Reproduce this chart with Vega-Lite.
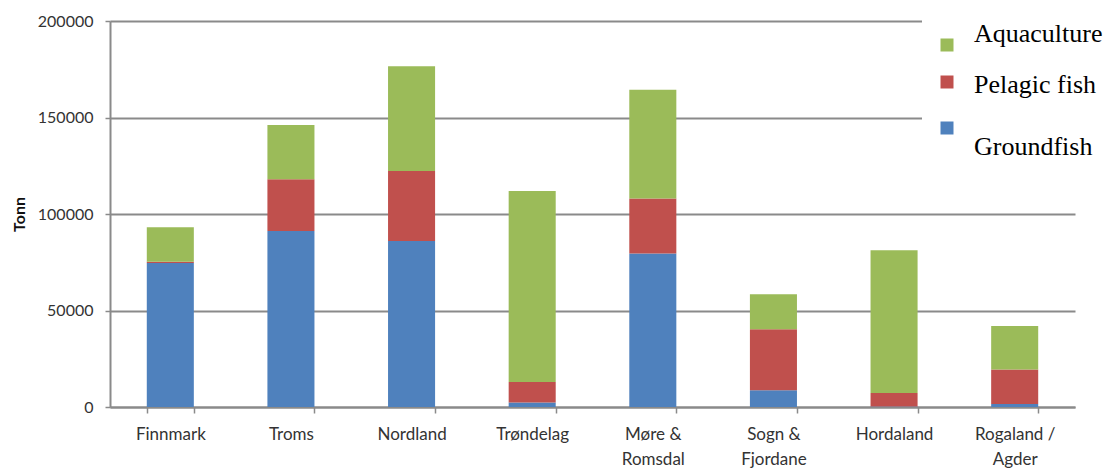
{
  "$schema": "https://vega.github.io/schema/vega-lite/v6.json",
  "width": 965,
  "height": 386,
  "autosize": {"type": "none"},
  "padding": {"left": 110, "top": 21, "right": 34, "bottom": 64},
  "background": "white",
  "data": {
    "values": [
      {"region": "Finnmark", "type": "Groundfish", "stack": 1, "tonn": 74600},
      {"region": "Finnmark", "type": "Pelagic fish", "stack": 2, "tonn": 600},
      {"region": "Finnmark", "type": "Aquaculture", "stack": 3, "tonn": 17900},
      {"region": "Troms", "type": "Groundfish", "stack": 1, "tonn": 91200},
      {"region": "Troms", "type": "Pelagic fish", "stack": 2, "tonn": 26800},
      {"region": "Troms", "type": "Aquaculture", "stack": 3, "tonn": 28100},
      {"region": "Nordland", "type": "Groundfish", "stack": 1, "tonn": 86000},
      {"region": "Nordland", "type": "Pelagic fish", "stack": 2, "tonn": 36300},
      {"region": "Nordland", "type": "Aquaculture", "stack": 3, "tonn": 54200},
      {"region": "Trøndelag", "type": "Groundfish", "stack": 1, "tonn": 2300},
      {"region": "Trøndelag", "type": "Pelagic fish", "stack": 2, "tonn": 10700},
      {"region": "Trøndelag", "type": "Aquaculture", "stack": 3, "tonn": 98900},
      {"region": "Møre & Romsdal", "type": "Groundfish", "stack": 1, "tonn": 79500},
      {"region": "Møre & Romsdal", "type": "Pelagic fish", "stack": 2, "tonn": 28500},
      {"region": "Møre & Romsdal", "type": "Aquaculture", "stack": 3, "tonn": 56400},
      {"region": "Sogn & Fjordane", "type": "Groundfish", "stack": 1, "tonn": 8700},
      {"region": "Sogn & Fjordane", "type": "Pelagic fish", "stack": 2, "tonn": 31600},
      {"region": "Sogn & Fjordane", "type": "Aquaculture", "stack": 3, "tonn": 18100},
      {"region": "Hordaland", "type": "Groundfish", "stack": 1, "tonn": 300},
      {"region": "Hordaland", "type": "Pelagic fish", "stack": 2, "tonn": 7000},
      {"region": "Hordaland", "type": "Aquaculture", "stack": 3, "tonn": 73900},
      {"region": "Rogaland / Agder", "type": "Groundfish", "stack": 1, "tonn": 1500},
      {"region": "Rogaland / Agder", "type": "Pelagic fish", "stack": 2, "tonn": 17900},
      {"region": "Rogaland / Agder", "type": "Aquaculture", "stack": 3, "tonn": 22600}
    ]
  },
  "mark": {"type": "bar"},
  "encoding": {
    "x": {
      "field": "region",
      "type": "nominal",
      "sort": null,
      "scale": {"paddingInner": 0.61, "paddingOuter": 0.305},
      "axis": {
        "title": null,
        "labelAngle": 0,
        "labelFont": "Lato",
        "labelFontSize": 17,
        "labelColor": "#333333",
        "labelBaseline": "top",
        "labelLineHeight": 25,
        "labelPadding": 13,
        "labelExpr": "test(/[&\\/]/, datum.label) ? [substring(datum.label, 0, indexof(datum.label, ' ') + 2), substring(datum.label, indexof(datum.label, ' ') + 3)] : datum.label",
        "tickBand": "extent",
        "ticks": true,
        "tickSize": 6,
        "tickColor": "#8a8a8a",
        "tickWidth": 1.5,
        "domainColor": "#8a8a8a",
        "domainWidth": 2,
        "grid": false
      }
    },
    "y": {
      "field": "tonn",
      "type": "quantitative",
      "stack": "zero",
      "scale": {"domain": [0, 200000], "nice": false},
      "axis": {
        "title": "Tonn",
        "titleFont": "Lato",
        "titleFontSize": 16,
        "titleFontWeight": "bold",
        "titleColor": "#111111",
        "titlePadding": 10,
        "values": [0, 50000, 100000, 150000, 200000],
        "format": "d",
        "labelFont": "Lato",
        "labelFontSize": 16,
        "labelColor": "#333333",
        "labelPadding": 12,
        "tickSize": 5,
        "tickColor": "#8a8a8a",
        "tickWidth": 1.5,
        "domainColor": "#8a8a8a",
        "domainWidth": 2,
        "grid": true,
        "gridColor": "#8a8a8a",
        "gridWidth": 2
      }
    },
    "order": {"field": "stack", "type": "quantitative", "sort": "ascending"},
    "color": {
      "field": "type",
      "type": "nominal",
      "scale": {
        "domain": ["Aquaculture", "Pelagic fish", "Groundfish"],
        "range": ["#9BBB59", "#C0504D", "#4F81BD"]
      },
      "legend": {
        "title": null,
        "orient": "none",
        "legendX": 812,
        "legendY": -1,
        "padding": 12,
        "fillColor": "white",
        "strokeColor": null,
        "symbolType": "square",
        "symbolSize": 169,
        "symbolStrokeWidth": 0,
        "labelFont": "Liberation Serif",
        "labelFontSize": 26,
        "labelColor": "black",
        "labelOffset": 14,
        "labelLimit": 300,
        "rowPadding": 17,
        "encode": {
          "labels": {"update": {"dy": {"signal": "[-11, 3, 19][datum.index]"}}}
        }
      }
    }
  },
  "config": {
    "view": {"stroke": null},
    "axis": {"labelFont": "Lato"}
  }
}
